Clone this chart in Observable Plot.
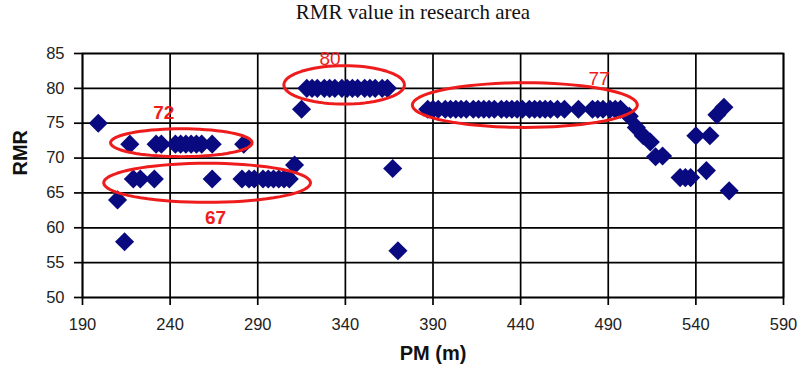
<!DOCTYPE html>
<html>
<head>
<meta charset="utf-8">
<script src="https://cdn.jsdelivr.net/npm/d3@7"></script>
<script src="https://cdn.jsdelivr.net/npm/@observablehq/plot@0.6"></script>
<style>
  body { margin: 0; background: #fff; }
  #title { height: 26px; width: 806px; text-align: center; font-family: "Liberation Serif", "DejaVu Serif", serif; font-size: 21px; line-height: 24px; color: #111; padding-left: 20px; box-sizing: border-box; }
</style>
</head>
<body>
<div id="title">RMR value in research area</div>
<div id="chart"></div>
<script>
// Data
const pm = [
  199, 210, 214, 217,
  219, 223, 231,
  232, 235, 243, 246, 249, 252, 255, 258, 264, 264, 282,
  281, 285, 288, 293, 296, 299, 302, 305, 308,
  311, 315,
  318, 321, 324, 328, 331, 334, 338, 341, 344, 347, 351, 354, 357, 361, 364,
  367, 370,
  387, 390, 393, 397, 400, 403, 406, 409, 413, 416, 419, 422, 425, 429, 432, 435, 438, 441, 445, 448, 451, 454, 457, 461, 465,
  473, 481, 484, 487, 491, 494, 497,
  502, 506, 510, 514, 517, 521,
  531, 534, 537, 540, 546, 548, 552, 556, 559
];
const rmr = [
  75, 64, 58, 72,
  67, 67, 67,
  72, 72, 72, 72, 72, 72, 72, 72, 72, 67, 72,
  67, 67, 67, 67, 67, 67, 67, 67, 67,
  69, 77,
  80, 80, 80, 80, 80, 80, 80, 80, 80, 80, 80, 80, 80, 80, 80,
  68.5, 56.7,
  77, 77, 77, 77, 77, 77, 77, 77, 77, 77, 77, 77, 77, 77, 77, 77, 77, 77, 77, 77, 77, 77, 77, 77, 77,
  77, 77, 77, 77, 77, 77, 77,
  76, 74.4, 73.2, 72.3, 70.2, 70.3,
  67.2, 67.2, 67.2, 73.2, 68.2, 73.2, 76.2, 77.3, 65.3
];
const xTicks = [190, 240, 290, 340, 390, 440, 490, 540, 590];
const yTicks = [50, 55, 60, 65, 70, 75, 80, 85];

// Red annotation ellipses (data units)
const ellipseCx = [246.4, 261.1, 339.3, 442.4];
const ellipseCy = [72.2, 66.45, 80.5, 77.6];
const ellipseRx = [40.4, 59, 34.4, 64.2];
const ellipseRy = [2.0, 2.8, 2.75, 3.2];

// Annotation labels
const labelText = ["72", "67", "80", "77"];
const labelX = [236.4, 265.9, 331.2, 484.7];
const labelY = [76.5, 61.4, 84.2, 81.4];
const labelWeight = ["bold", "bold", "normal", "normal"];

const points = pm.map((x, i) => ({x, y: rmr[i]}));
const ellipsePts = [];
ellipseCx.forEach((cx, i) => {
  for (let k = 0; k <= 72; k++) {
    const t = (k / 72) * 2 * Math.PI;
    ellipsePts.push({id: i, x: cx + ellipseRx[i] * Math.cos(t), y: ellipseCy[i] + ellipseRy[i] * Math.sin(t)});
  }
});
const labels = labelText.map((t, i) => ({t, x: labelX[i], y: labelY[i], w: labelWeight[i]}));

const chart = Plot.plot({
  width: 806,
  height: 352,
  marginTop: 27,
  marginBottom: 81,
  marginLeft: 82,
  marginRight: 23,
  x: {domain: [190, 590]},
  y: {domain: [50, 85]},
  style: {fontFamily: "Liberation Sans, Arial, sans-serif", fontSize: "16px", color: "#222", background: "#fff"},
  marks: [
    Plot.gridX(xTicks, {stroke: "#000", strokeOpacity: 1, strokeWidth: 1.7}),
    Plot.gridY(yTicks, {stroke: "#000", strokeOpacity: 1, strokeWidth: 1.7}),
    Plot.frame({stroke: "#000", strokeWidth: 1.7}),
    Plot.axisX(xTicks, {tickSize: 8, tickPadding: 13, label: null, stroke: "#000", strokeWidth: 1.7, fontSize: 16.5}),
    Plot.axisY(yTicks, {tickSize: 8, tickPadding: 10, label: null, stroke: "#000", strokeWidth: 1.7, fontSize: 16.5}),
    Plot.dot(points, {x: "x", y: "y", symbol: "diamond2", r: 8.6, fill: "#0a0a80", stroke: "none"}),
    Plot.line(ellipsePts, {x: "x", y: "y", z: "id", stroke: "#ee1c1c", strokeWidth: 3, curve: "linear"}),
    Plot.text(labels.filter(d => d.w === "bold"), {x: "x", y: "y", text: "t", fill: "#ee1c1c", fontSize: 19, fontWeight: "bold"}),
    Plot.text(labels.filter(d => d.w !== "bold"), {x: "x", y: "y", text: "t", fill: "#ee1c1c", fontSize: 19}),
    Plot.text(["PM (m)"], {frameAnchor: "bottom", dx: 0, dy: 62, fontSize: 20, fontWeight: "bold", fill: "#111"}),
    Plot.text(["RMR"], {frameAnchor: "left", dx: -62, rotate: -90, fontSize: 20, fontWeight: "bold", fill: "#111"})
  ]
});
document.getElementById("chart").appendChild(chart);
</script>
</body>
</html>
